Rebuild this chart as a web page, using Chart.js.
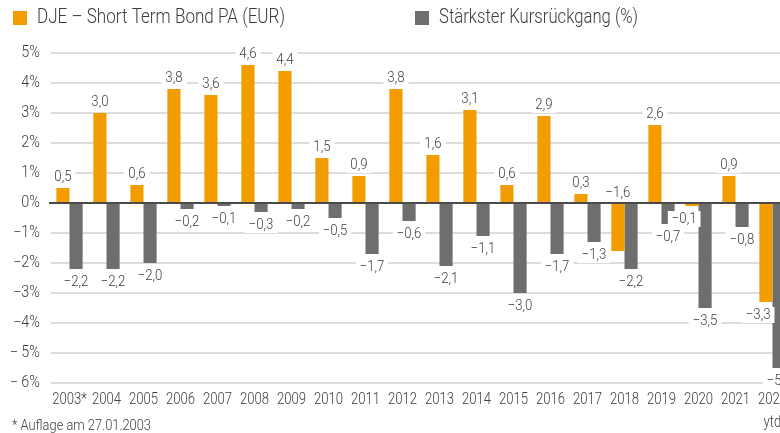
<!DOCTYPE html>
<html><head><meta charset="utf-8">
<script src="https://cdn.jsdelivr.net/npm/chart.js@4/dist/chart.umd.min.js"></script>
<style>
html,body{margin:0;padding:0;background:#fff;overflow:hidden;width:780px;height:433px}
#wrap{position:relative;width:800px;height:433px}
</style></head><body>
<div id="wrap"><canvas id="c" width="800" height="433"></canvas></div>
<script>
const categories = ['2003*','2004','2005','2006','2007','2008','2009','2010','2011','2012','2013','2014','2015','2016','2017','2018','2019','2020','2021',['2022','ytd']];
const fundReturns = [0.5,3.0,0.6,3.8,3.6,4.6,4.4,1.5,0.9,3.8,1.6,3.1,0.6,2.9,0.3,-1.6,2.6,-0.1,0.9,-3.3];
const maxDrawdown = [-2.2,-2.2,-2.0,-0.2,-0.1,-0.3,-0.2,-0.5,-1.7,-0.6,-2.1,-1.1,-3.0,-1.7,-1.3,-2.2,-0.7,-3.5,-0.8,-5.5];
const yTicks = [5,4,3,2,1,0,-1,-2,-3,-4,-5,-6];
const yTickLabels = ['5%','4%','3%','2%','1%','0%','\u22121%','\u22122%','\u22123%','\u22124%','\u2212 5%','\u2212 6%'];
const seriesNames = ['DJE \u2013 Short Term Bond PA (EUR)','St\u00e4rkster Kursr\u00fcckgang (%)'];
const footnote = '* Auflage am 27.01.2003';

const FONT = "Roboto,'Liberation Sans',sans-serif";
const ORANGE = '#F39C00', GREY = '#6E6E6E', TXT = '#404040';
const LSIZE = 15.5, LSX = 0.85;

function fmt(v){ const s = Math.abs(v).toFixed(1).replace('.',','); return v<0 ? '\u2212'+s : s; }

function txt(ctx, s, x, y, size, align, sx, weight){
  ctx.save();
  ctx.font = (weight||'300')+' '+size+'px '+FONT;
  ctx.textBaseline='middle'; ctx.textAlign=align;
  ctx.translate(x,y); ctx.scale(sx,1);
  ctx.fillText(s,0,0);
  ctx.restore();
}
function tw(ctx, s, size, sx, weight){
  ctx.save(); ctx.font=(weight||'300')+' '+size+'px '+FONT;
  const w = ctx.measureText(s).width*sx; ctx.restore(); return w;
}

const deco = {
  id:'deco',
  afterDatasetsDraw(chart){
    const ctx = chart.ctx, ca = chart.chartArea, y = chart.scales.y, x = chart.scales.x;
    ctx.save();
    const y0 = y.getPixelForValue(0);
    ctx.strokeStyle = '#4a4a4a'; ctx.lineWidth = 2;
    ctx.beginPath(); ctx.moveTo(ca.left-2, y0); ctx.lineTo(ca.right, y0); ctx.stroke();

    const m0 = chart.getDatasetMeta(0), m1 = chart.getDatasetMeta(1);
    const drawLabel = (s,cx,cy)=>{
      const w = tw(ctx,s,LSIZE,LSX);
      ctx.fillStyle='#fff'; ctx.fillRect(cx-w/2-4, cy-8, w+8, 16);
      ctx.fillStyle=TXT; txt(ctx,s,cx,cy,LSIZE,'center',LSX);
    };
    [[m0,fundReturns],[m1,maxDrawdown]].forEach(([meta,vals],di)=>{
      meta.data.forEach((bar,i)=>{
        const v = vals[i], s = fmt(v);
        let cx = bar.x, cy;
        if (v >= 0) cy = bar.y - 11;
        else {
          cy = bar.y + 13;
          if (di===0) {
            const g = m1.data[i];
            const w = tw(ctx,s,LSIZE,LSX);
            const gl = g.x - g.width/2;
            if ((maxDrawdown[i] < v && Math.abs(v) < 1.0) || i===categories.length-1) {
              if (cx + w/2 > gl - 2) cx = gl - 2 - w/2;
            } else if (maxDrawdown[i] < v) {
              cy = y0 - 10;
            }
          }
        }
        drawLabel(s,cx,cy);
      });
    });

    ctx.fillStyle=TXT;
    yTicks.forEach((v,k)=>{ txt(ctx,yTickLabels[k],ca.left-11,y.getPixelForValue(v),16,'right',0.9); });
    categories.forEach((c,i)=>{
      const px = x.getPixelForValue(i);
      const lines = Array.isArray(c)?c:[c];
      lines.forEach((l,j)=>{ txt(ctx,l,px,ca.bottom+17+j*23,16,'center',0.82); });
    });
    ctx.restore();
  },
  afterDraw(chart){
    const ctx = chart.ctx;
    ctx.save();
    ctx.fillStyle=ORANGE; ctx.fillRect(13,11,14,14);
    ctx.fillStyle=GREY; ctx.fillRect(415,11,14,14);
    ctx.fillStyle='#3c3c3c';
    const s0 = 248/tw(ctx,seriesNames[0],20,1);
    txt(ctx,seriesNames[0],37,18,20,'left',s0);
    const s1 = 199/tw(ctx,seriesNames[1],20,1);
    txt(ctx,seriesNames[1],439,18,20,'left',s1);
    ctx.fillStyle=TXT;
    const s2 = 139/tw(ctx,footnote,15,1);
    txt(ctx,footnote,12,426,15,'left',s2);
    ctx.restore();
  }
};

new Chart(document.getElementById('c'),{
  type:'bar',
  data:{labels:categories,datasets:[
    {label:seriesNames[0],data:fundReturns,backgroundColor:ORANGE,categoryPercentage:0.71,barPercentage:1.0},
    {label:seriesNames[1],data:maxDrawdown,backgroundColor:GREY,categoryPercentage:0.71,barPercentage:1.0}
  ]},
  options:{
    responsive:false,animation:false,
    layout:{padding:{top:53,right:9,bottom:0,left:0}},
    plugins:{legend:{display:false},tooltip:{enabled:false}},
    scales:{
      x:{
        grid:{display:false},border:{display:false},
        ticks:{display:false},
        afterFit(s){s.height=50;}
      },
      y:{
        min:-6,max:5,
        afterBuildTicks(s){ s.ticks = yTicks.map(v=>({value:v})); },
        grid:{color:'#dcdcdc',lineWidth:2,drawTicks:false},
        border:{display:false},
        ticks:{display:false},
        afterFit(s){s.width=51;}
      }
    }
  },
  plugins:[deco]
});
</script></body></html>
